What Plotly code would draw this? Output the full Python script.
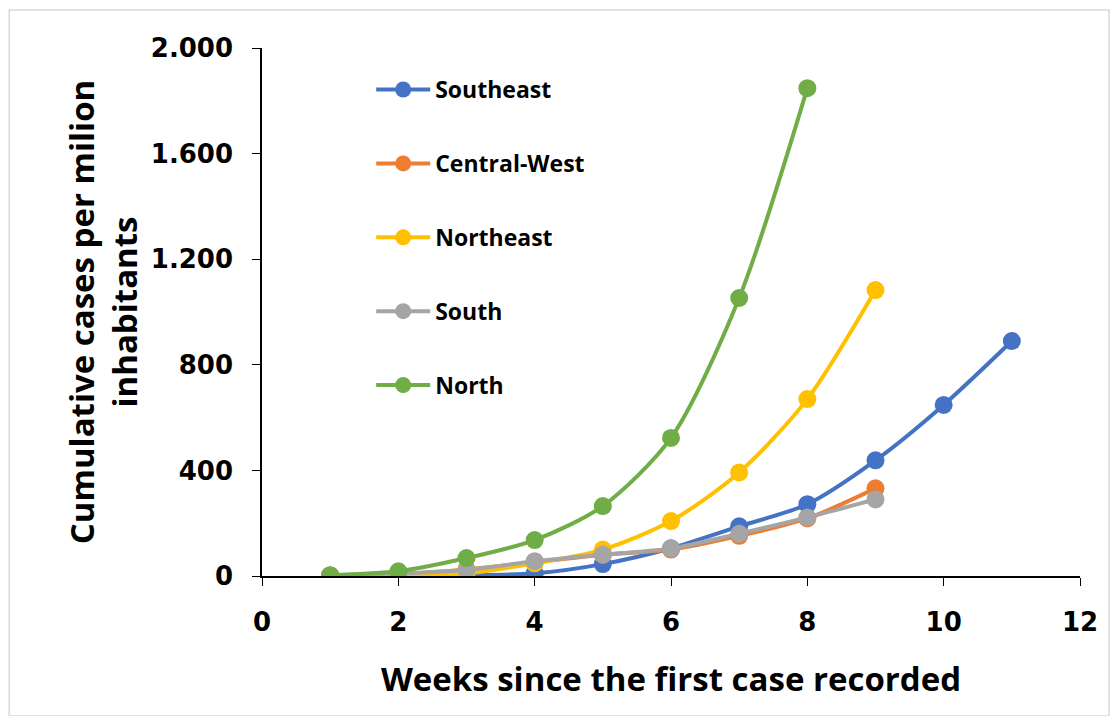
import plotly.graph_objects as go

weeks_southeast = [1, 2, 3, 4, 5, 6, 7, 8, 9, 10, 11]
southeast = [0, 1, 3, 10, 45, 105, 188, 272, 438, 648, 890]

weeks_central_west = [1, 2, 3, 4, 5, 6, 7, 8, 9]
central_west = [2, 8, 25, 52, 80, 100, 152, 218, 332]

weeks_northeast = [1, 2, 3, 4, 5, 6, 7, 8, 9]
northeast = [0, 3, 10, 48, 100, 208, 392, 670, 1083]

weeks_south = [1, 2, 3, 4, 5, 6, 7, 8, 9]
south = [2, 10, 23, 56, 81, 104, 160, 222, 290]

weeks_north = [1, 2, 3, 4, 5, 6, 7, 8]
north = [3, 18, 68, 136, 265, 523, 1053, 1848]

names = ["Southeast", "Central-West", "Northeast", "South", "North"]
colors = ["#4472C4", "#ED7D31", "#FFC000", "#A5A5A5", "#70AD47"]
xs = [weeks_southeast, weeks_central_west, weeks_northeast, weeks_south, weeks_north]
ys = [southeast, central_west, northeast, south, north]

x_ticks = [0, 2, 4, 6, 8, 10, 12]
y_ticks = [0, 400, 800, 1200, 1600, 2000]

fig = go.Figure()
for i, (n, c, x, y) in enumerate(zip(names, colors, xs, ys)):
    fig.add_trace(go.Scatter(
        x=x, y=y, name=n, mode="lines+markers",
        line=dict(color=c, width=4, shape="spline", smoothing=0.8),
        marker=dict(color=c, size=18),
        legendgroup=n, legendrank=i + 1,
    ))

fig.update_layout(
    width=1102, height=708,
    paper_bgcolor="white", plot_bgcolor="white",
    separators=",.",
    margin=dict(l=254, r=30, t=40, b=140),
    font=dict(family="Open Sans", color="black"),
    legend=dict(
        x=0.1335, y=0.962, xanchor="left", yanchor="top",
        font=dict(family="Open Sans", size=23, color="black", weight="bold"),
        traceorder="grouped", tracegroupgap=41, itemwidth=54,
        bgcolor="rgba(0,0,0,0)",
    ),
    xaxis=dict(
        range=[0, 12], tickvals=x_ticks, showgrid=False, zeroline=False,
        showline=True, linecolor="black", linewidth=1.5,
        ticks="outside", ticklen=8, tickcolor="black", ticklabelstandoff=14,
        tickfont=dict(family="DejaVu Sans", size=26, color="black", weight="bold"),
        title=dict(text="Weeks since the first case recorded",
                   font=dict(family="Open Sans", size=33, color="black", weight="bold"),
                   standoff=32),
    ),
    yaxis=dict(
        range=[0, 2000], tickvals=y_ticks, tickformat=",d", showgrid=False, zeroline=False,
        showline=True, linecolor="black", linewidth=1.5,
        ticks="outside", ticklen=8, tickcolor="black", ticklabelstandoff=14,
        tickfont=dict(family="DejaVu Sans", size=26, color="black", weight="bold"),
        title=dict(text="Cumulative cases per milion<br>inhabitants",
                   font=dict(family="Open Sans", size=33, color="black", weight="bold"),
                   standoff=3),
    ),
    shapes=[dict(type="rect", xref="paper", yref="paper",
                 x0=-0.309, x1=1.0355, y0=-0.265, y1=1.072,
                 line=dict(color="#D9D9D9", width=1.5), layer="below")],
)

fig.write_html("out.html")
